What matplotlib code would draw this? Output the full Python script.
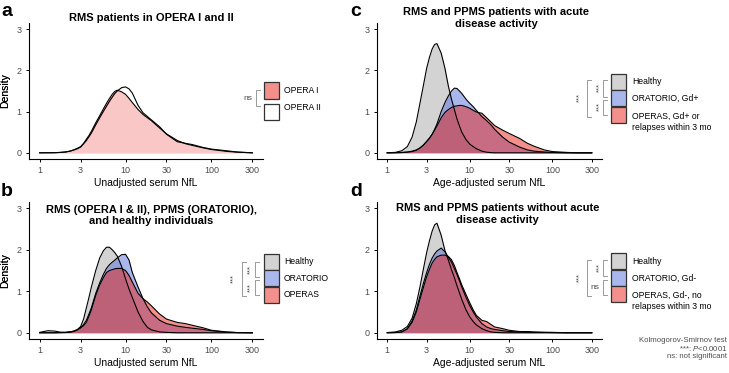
import matplotlib
matplotlib.use("Agg")
import matplotlib.pyplot as plt
from matplotlib.patches import Rectangle
from matplotlib.lines import Line2D

plt.rcParams['font.family'] = ['Liberation Sans', 'DejaVu Sans']
plt.rcParams['mathtext.fontset'] = 'custom'
plt.rcParams['mathtext.rm'] = 'Liberation Sans'
plt.rcParams['mathtext.it'] = 'Liberation Sans:italic'

# serum NfL grid the densities were read at
nfl = [1, 1.25, 1.5, 1.75, 2, 2.25, 2.5, 2.75, 3, 3.25, 3.5, 3.75, 4, 4.5, 5, 5.5,
       6, 6.5, 7, 7.5, 8, 9, 10, 11, 12, 14, 16, 18, 20, 25, 30, 40, 50, 60, 80, 100,
       150, 200, 300]

# a: OPERA I vs OPERA II
opera1 = [0, 0.001, 0.003, 0.01, 0.02, 0.04, 0.07, 0.11, 0.15, 0.23, 0.33, 0.42,
          0.52, 0.73, 0.9, 1.06, 1.2, 1.32, 1.42, 1.49, 1.52, 1.48, 1.42, 1.32,
          1.22, 1.05, 0.93, 0.85, 0.78, 0.6, 0.46, 0.3, 0.22, 0.18, 0.12, 0.08,
          0.035, 0.015, 0]
opera2 = [0, 0.001, 0.003, 0.01, 0.02, 0.04, 0.07, 0.1, 0.14, 0.22, 0.3, 0.39,
          0.48, 0.68, 0.85, 1.0, 1.13, 1.25, 1.35, 1.44, 1.5, 1.58, 1.6, 1.55,
          1.45, 1.15, 0.97, 0.88, 0.8, 0.63, 0.45, 0.27, 0.23, 0.2, 0.13, 0.09,
          0.05, 0.02, 0]

# b: unadjusted, all patients
healthy_b = [0.01, 0.05, 0.04, 0.015, 0.01, 0.02, 0.04, 0.08, 0.15, 0.33, 0.6, 0.85,
             1.1, 1.5, 1.8, 1.97, 2.06, 2.06, 2.0, 1.93, 1.85, 1.6, 1.3, 1.05,
             0.85, 0.5, 0.27, 0.13, 0.07, 0.02, 0.01, 0, 0, 0, 0, 0,
             0, 0, 0]
oratorio_b = [0, 0, 0, 0.002, 0.005, 0.015, 0.03, 0.07, 0.12, 0.2, 0.3, 0.45,
              0.6, 0.95, 1.2, 1.4, 1.55, 1.64, 1.7, 1.75, 1.8, 1.88, 1.89, 1.75,
              1.45, 1.1, 0.82, 0.62, 0.48, 0.3, 0.22, 0.16, 0.13, 0.11, 0.08, 0.05,
              0.015, 0.005, 0]
operas_b = [0, 0, 0, 0.005, 0.01, 0.02, 0.04, 0.07, 0.12, 0.17, 0.25, 0.4,
            0.55, 0.9, 1.15, 1.32, 1.45, 1.5, 1.52, 1.54, 1.55, 1.55, 1.5, 1.38,
            1.22, 0.95, 0.82, 0.74, 0.65, 0.45, 0.33, 0.25, 0.22, 0.18, 0.12, 0.06,
            0.02, 0.005, 0]

# c: age-adjusted, acute disease activity
healthy_c = [0.003, 0.01, 0.05, 0.15, 0.38, 0.75, 1.22, 1.65, 2.05, 2.32, 2.52, 2.63,
             2.65, 2.42, 2.05, 1.62, 1.3, 1.05, 0.82, 0.65, 0.5, 0.32, 0.21, 0.15,
             0.1, 0.04, 0.015, 0.005, 0, 0, 0, 0, 0, 0, 0, 0,
             0, 0, 0]
oratorio_c = [0, 0, 0.005, 0.015, 0.03, 0.06, 0.12, 0.19, 0.28, 0.36, 0.45, 0.57,
              0.7, 1.0, 1.22, 1.38, 1.5, 1.57, 1.56, 1.5, 1.44, 1.3, 1.2, 1.12,
              1.03, 0.88, 0.78, 0.68, 0.57, 0.38, 0.26, 0.14, 0.07, 0.04, 0.02, 0.01,
              0, 0, 0]
operas_c = [0, 0.003, 0.01, 0.02, 0.04, 0.07, 0.12, 0.19, 0.27, 0.35, 0.45, 0.55,
            0.65, 0.85, 0.98, 1.05, 1.1, 1.13, 1.14, 1.15, 1.15, 1.12, 1.08, 1.03,
            0.99, 0.96, 0.85, 0.75, 0.66, 0.55, 0.47, 0.35, 0.23, 0.16, 0.07, 0.03,
            0.01, 0, 0]

# d: age-adjusted, no acute disease activity
healthy_d = [0.005, 0.02, 0.06, 0.15, 0.35, 0.7, 1.12, 1.55, 1.93, 2.22, 2.45, 2.6,
             2.64, 2.35, 1.98, 1.75, 1.52, 1.33, 1.13, 0.96, 0.8, 0.55, 0.38, 0.27,
             0.19, 0.1, 0.05, 0.02, 0.01, 0, 0, 0, 0, 0, 0, 0,
             0, 0, 0]
oratorio_d = [0, 0.005, 0.02, 0.1, 0.28, 0.55, 0.9, 1.2, 1.45, 1.65, 1.8, 1.9,
              1.97, 2.04, 1.95, 1.82, 1.7, 1.55, 1.4, 1.25, 1.1, 0.85, 0.65, 0.5,
              0.38, 0.22, 0.14, 0.1, 0.08, 0.05, 0.03, 0.02, 0.015, 0.01, 0.01, 0.005,
              0, 0, 0]
operas_d = [0, 0.005, 0.02, 0.09, 0.25, 0.5, 0.82, 1.1, 1.35, 1.53, 1.68, 1.77,
            1.83, 1.87, 1.87, 1.84, 1.76, 1.62, 1.45, 1.3, 1.15, 0.92, 0.72, 0.55,
            0.42, 0.3, 0.27, 0.2, 0.14, 0.1, 0.06, 0.03, 0.03, 0.02, 0.01, 0.01,
            0, 0, 0]

xticks = [1, 3, 10, 30, 100, 300]
yticks = [0, 1, 2, 3]

GREY = "#a8a8a8"
BLUE = "#5470dd"
RED = "#e8231b"
TXT = "#4d4d4d"

W, H = 729, 373
fig = plt.figure(figsize=(W / 100, H / 100), dpi=100)


def fx(x):
    return x / W


def fy(y):
    return 1 - y / H


def make_axes(l, t, r, b, xlabel, title, tx, ty):
    ax = fig.add_axes([fx(l), fy(b), (r - l) / W, (b - t) / H])
    ax.set_xscale("log")
    ax.set_xlim(10 ** -0.124, 10 ** 2.601)
    ax.set_ylim(-0.15, 3.15)
    ax.set_xticks(xticks)
    ax.set_xticklabels([str(v) for v in xticks])
    ax.minorticks_off()
    ax.set_yticks(yticks)
    for s in ["top", "right"]:
        ax.spines[s].set_visible(False)
    for s in ["left", "bottom"]:
        ax.spines[s].set_linewidth(0.8)
    ax.tick_params(length=2.5, width=0.7, labelsize=6.5, labelcolor=TXT, pad=2.8)
    ax.set_facecolor("none")
    fig.text(fx((l + r) / 2), fy(b + 24), xlabel, ha="center", va="center", fontsize=7.5)
    fig.text(fx(5), fy((t + b) / 2), "Density", rotation=90, ha="center", va="center", fontsize=7.5)
    fig.text(fx(tx), fy(ty), title, ha="center", va="center", fontsize=8,
             fontweight="bold", linespacing=1.15)
    return ax


def density(ax, ys, color, alpha=0.5):
    ax.fill_between(nfl, ys, 0, color=color, alpha=alpha, lw=0)
    ax.plot(nfl, ys, color="black", lw=0.8)


def key(x, y, color, alpha=0.5):
    fig.patches.append(Rectangle((fx(x), fy(y + 16)), 15 / W, 16 / H, transform=fig.transFigure,
                                 facecolor="white", edgecolor="none"))
    fig.patches.append(Rectangle((fx(x), fy(y + 16)), 15 / W, 16 / H, transform=fig.transFigure,
                                 facecolor=color, alpha=alpha, edgecolor="none"))
    fig.patches.append(Rectangle((fx(x), fy(y + 16)), 15 / W, 16 / H, transform=fig.transFigure,
                                 facecolor="none", edgecolor="#333333", lw=0.9))


def label(x, y, s):
    fig.text(fx(x), fy(y), s, ha="left", va="center", fontsize=6.2)


def bracket(x, y0, y1):
    xs = [fx(x + 4), fx(x), fx(x), fx(x + 4)]
    ys = [fy(y0), fy(y0), fy(y1), fy(y1)]
    fig.add_artist(Line2D(xs, ys, color="#9a9a9a", lw=0.7, transform=fig.transFigure))


def stars(x, y):
    fig.text(fx(x), fy(y), "***", rotation=90, ha="center", va="center", fontsize=5.5, color=TXT)


def ns(x, y):
    fig.text(fx(x), fy(y), "ns", ha="center", va="center", fontsize=6, color=TXT)


# panel a
ax = make_axes(29, 23, 263, 159, "Unadjusted serum NfL", "RMS patients in OPERA I and II", 151, 18)
density(ax, opera1, RED)
density(ax, opera2, "white")
key(263.5, 82.5, RED)
key(263.5, 104, "white", alpha=1)
label(284, 90.5, "OPERA I")
label(284, 107.5, "OPERA II")
bracket(256, 89.5, 106)
ns(247.5, 98)

# panel b
ax = make_axes(29, 202, 263, 339, "Unadjusted serum NfL",
               "RMS (OPERA I & II), PPMS (ORATORIO),\nand healthy individuals", 151, 215.5)
density(ax, healthy_b, GREY)
density(ax, oratorio_b, BLUE)
density(ax, operas_b, RED)
for i, (c, s) in enumerate([(GREY, "Healthy"), (BLUE, "ORATORIO"), (RED, "OPERAS")]):
    key(263.5, 254 + 16.3 * i, c)
    label(284, 262 + 16.3 * i, s)
bracket(255, 261.7, 277)
bracket(255, 279.5, 294.5)
bracket(242.3, 261.7, 295.5)
stars(250.5, 269.3)
stars(250.5, 287)
stars(234, 278.5)

# panel c
ax = make_axes(377, 23, 602, 159, "Age-adjusted serum NfL",
               "RMS and PPMS patients with acute\ndisease activity", 496.5, 18)
density(ax, healthy_c, GREY)
density(ax, oratorio_c, BLUE)
density(ax, operas_c, RED)
for i, c in enumerate([GREY, BLUE, RED]):
    key(610.7, 74 + 16.4 * i, c)
label(632.3, 81.7, "Healthy")
label(632.3, 98.3, "ORATORIO, Gd+")
label(632.3, 116, "OPERAS, Gd+ or")
label(632.3, 127.5, "relapses within 3 mo")
bracket(603.3, 80, 96.5)
bracket(603.3, 99.5, 115)
bracket(586.7, 80, 116.7)
stars(599.3, 88)
stars(599.3, 106.5)
stars(580, 98)

# panel d
ax = make_axes(377, 202, 602, 339, "Age-adjusted serum NfL",
               "RMS and PPMS patients without acute\ndisease activity", 497.5, 214)
density(ax, healthy_d, GREY)
density(ax, oratorio_d, BLUE)
density(ax, operas_d, RED)
for i, c in enumerate([GREY, BLUE, RED]):
    key(610.7, 253.3 + 16.5 * i, c)
label(632.3, 261.5, "Healthy")
label(632.3, 278.3, "ORATORIO, Gd-")
label(632.3, 295, "OPERAS, Gd-, no")
label(632.3, 306.5, "relapses within 3 mo")
bracket(603.3, 260, 276)
bracket(603.3, 279.5, 295)
bracket(586.7, 260, 295.5)
stars(599.3, 268)
ns(595, 287.5)
stars(580, 278)

# panel letters
for s, x, y in [("a", 7, 12), ("b", 7, 192), ("c", 356, 12), ("d", 356, 192)]:
    fig.text(fx(x), fy(y), s, ha="center", va="center", fontsize=14, fontweight="bold")

# footnote
fig.text(fx(727), fy(340.7), "Kolmogorov-Smirnov test", ha="right", va="center", fontsize=5.6, color=TXT)
fig.text(fx(727), fy(348.5), "***: $P$<0.0001", ha="right", va="center", fontsize=5.6, color=TXT)
fig.text(fx(727), fy(356.7), "ns: not significant", ha="right", va="center", fontsize=5.6, color=TXT)

fig.savefig("out.png", dpi=100)
